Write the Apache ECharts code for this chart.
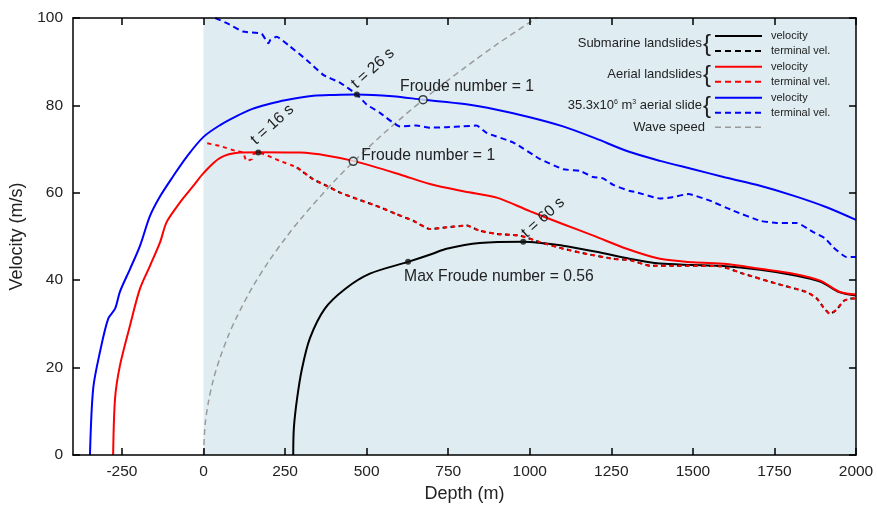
<!DOCTYPE html>
<html><head><meta charset="utf-8">
<script src="https://cdn.jsdelivr.net/npm/echarts@6/dist/echarts.min.js"></script>
<style>html,body{margin:0;padding:0;background:#fff}#c{width:877px;height:508px}</style>
</head><body><div id="c"></div>
<script>
// ---- data (depth m, velocity m/s) ----
const xTicks = [-250, 0, 250, 500, 750, 1000, 1250, 1500, 1750, 2000];
const yTicks = [0, 20, 40, 60, 80, 100];

const waveSpeed = [[0,0],[5,7],[15,12.1],[30,17.2],[50,22.1],[75,27.1],[100,31.3],[150,38.4],[200,44.3],[250,49.5],[300,54.2],[400,62.6],[500,70],[600,76.7],[700,82.9],[800,88.6],[900,94],[1000,99],[1025,100.3]];

const submarineVelocity = [[275,0],[277,6.2],[287,13],[302,19.8],[326,26.7],[372,33.5],[434,38],[510,41.5],[627,44.2],[700,46],[745,47.2],[847,48.5],[980,48.8],[1102,47.9],[1205,46.5],[1300,45],[1399,43.8],[1500,43.5],[1583,43.3],[1706,42.4],[1806,41.2],[1890,39.7],[1951,37.2],[2000,36.5]];

const submarineTerminal = [[286,65.8],[336,63.1],[380,61.5],[420,60],[470,58.6],[541,56.7],[592,55.1],[643,53.6],[694,51.7],[745,52.1],[807,52.5],[847,51.3],[899,50.6],[970,50.2],[1032,48.7],[1103,47.2],[1175,46],[1256,44.9],[1307,44.6],[1369,43.3],[1450,43.3],[1583,43.2],[1654,41.5],[1757,39.2],[1849,37.3],[1880,35.8],[1900,33.8],[1920,32.3],[1940,33.2],[1961,35.2],[1982,35.8],[2000,35.8]];

const aerialVelocity = [[-277,0],[-271,13],[-256,20.5],[-225,29.7],[-195,38],[-164,43.3],[-133,48.7],[-113,53.3],[-72,57.8],[-32,61.5],[0,64.5],[51,68],[112,69.2],[168,69.3],[296,69.2],[380,68.5],[459,67.3],[602,64.2],[694,62],[800,60.3],[899,58.9],[1000,55.8],[1103,52.8],[1195,50.2],[1297,47.2],[1399,44.9],[1501,44.1],[1604,43.7],[1706,42.6],[1808,41.5],[1890,39.9],[1951,37.3],[2000,36.7]];

const aerialTerminal = [[0,71.5],[51,70.7],[102,69.5],[121,69.2],[132,67.3],[148,67.7],[152,68.8],[168,69.2],[234,67.3],[286,65.8],[336,63.1],[380,61.5],[420,60],[470,58.6],[541,56.7],[592,55.1],[643,53.6],[694,51.7],[745,52.1],[807,52.5],[847,51.3],[899,50.6],[970,50.2],[1032,48.7],[1103,47.2],[1175,46],[1256,44.9],[1307,44.6],[1369,43.3],[1450,43.3],[1583,43.2],[1654,41.5],[1757,39.2],[1849,37.3],[1880,35.8],[1900,33.8],[1920,32.3],[1940,33.2],[1961,35.2],[1982,35.8],[2000,35.8]];

const bigSlideVelocity = [[-348,0],[-338,15.3],[-317,23.7],[-292,31.2],[-271,33.5],[-256,37.4],[-225,42.6],[-195,47.8],[-164,54.7],[-133,59.2],[-93,63.8],[-51,68.3],[0,72.8],[51,75.5],[100,77.5],[150,79.2],[200,80.3],[250,81.2],[337,82.2],[400,82.4],[470,82.5],[580,82.1],[673,81.3],[800,80.3],[899,79],[1000,77.3],[1102,75.2],[1200,72.5],[1300,69.5],[1400,67.3],[1501,65.4],[1600,63.5],[1706,61.6],[1810,59.3],[1910,56.7],[2000,53.8]];

const bigSlideTerminal = [[36,100],[80,98.5],[121,96.9],[178,96.4],[199,94.2],[205,95],[224,95.7],[265,93.5],[316,90.4],[367,87],[418,85.2],[470,82.5],[500,80.2],[541,78.3],[602,75.2],[653,75.4],[694,74.9],[745,75],[796,75.2],[837,75.4],[868,73.7],[950,71.5],[1032,67.7],[1103,65.4],[1154,65],[1194,63.6],[1225,63.3],[1256,61.8],[1307,60.4],[1328,60.1],[1399,58.7],[1430,58.9],[1486,59.7],[1552,58.2],[1624,55.9],[1706,53.6],[1757,53.1],[1818,53.1],[1869,51],[1905,49.6],[1931,47.5],[1971,45.3],[2000,45.3]];

// marked points
const solidDots = [[470,82.5],[168,69.2],[980,48.8],[627,44.2]];
const openDots = [[673,81.3],[459,67.2]];

// annotation texts
const annoTexts = ['t = 26 s','t = 16 s','t = 60 s','Froude number = 1','Froude number = 1','Max Froude number = 0.56'];
const annoAnchors = [[470,82.5],[168,69.2],[980,48.8],[673,81.3],[459,67.2],[627,44.2]];

// legend
const legendGroups = ['Submarine landslides','Aerial landslides','35.3x10{s|6} m{s|3} aerial slide'];
const legendColors = ['#000000','#ff0000','#0000ff'];
const legendSub = ['velocity','terminal vel.'];

// ---- chart ----
const F = '"Liberation Sans", Arial, sans-serif';
const BG = '#dfedf3';
const chart = echarts.init(document.getElementById('c'), null, {renderer: 'canvas'});

function line(name, data, color, dash, z, smooth, extra) {
  return Object.assign({
    name, type: 'line', data, showSymbol: false, symbol: 'none', silent: true,
    z: z, animation: false, clip: true, smooth: smooth,
    lineStyle: {color, width: 2, type: dash || 'solid'}
  }, extra || {});
}

const tickStyle = {show: true, inside: true, length: 7, lineStyle: {color: '#000', width: 1.5}};
const axisLineStyle = {show: true, onZero: false, lineStyle: {color: '#000', width: 1.5}};
const fmt = v => String(v);
const option = {
  backgroundColor: '#fff',
  animation: false,
  grid: {left: 73, right: 21, top: 18, bottom: 51, containLabel: false},
  xAxis: [{
    type: 'value', min: -400, max: 2000, position: 'bottom', z: 10,
    axisLine: axisLineStyle,
    axisTick: Object.assign({customValues: xTicks}, tickStyle),
    axisLabel: {show: true, customValues: xTicks, formatter: fmt, margin: 9, color: '#222', fontFamily: F, fontSize: 15.5},
    splitLine: {show: false},
    name: 'Depth (m)', nameLocation: 'middle', nameGap: 30,
    nameTextStyle: {fontFamily: F, fontSize: 18, color: '#222'}
  }, {
    type: 'value', min: -400, max: 2000, position: 'top', z: 10,
    axisLine: axisLineStyle,
    axisTick: Object.assign({customValues: xTicks}, tickStyle),
    axisLabel: {show: false}, splitLine: {show: false}
  }],
  yAxis: [{
    type: 'value', min: 0, max: 100, interval: 20, position: 'left', z: 10,
    axisLine: axisLineStyle,
    axisTick: tickStyle,
    axisLabel: {show: true, formatter: fmt, margin: 10, color: '#222', fontFamily: F, fontSize: 15.5},
    splitLine: {show: false},
    name: 'Velocity (m/s)', nameLocation: 'middle', nameGap: 39,
    nameTextStyle: {fontFamily: F, fontSize: 18, color: '#222'}
  }, {
    type: 'value', min: 0, max: 100, interval: 20, position: 'right', z: 10,
    axisLine: axisLineStyle,
    axisTick: tickStyle,
    axisLabel: {show: false}, splitLine: {show: false}
  }],
  series: [
    line('Wave speed', waveSpeed, '#9a9a9a', [6, 4], 2, 0.3, {
      lineStyle: {color: '#9a9a9a', width: 1.5, type: [6, 4]},
      markArea: {silent: true, itemStyle: {color: BG}, data: [[{xAxis: 0}, {xAxis: 2000}]]}
    }),
    line('Submarine velocity', submarineVelocity, '#000000', null, 3, 0.3),
    line('Submarine terminal', submarineTerminal, '#000000', [4, 4], 3, 0.15),
    line('Aerial velocity', aerialVelocity, '#ff0000', null, 4, 0.3),
    line('Aerial terminal', aerialTerminal, '#ff0000', [4, 4], 4, 0.15, {
      lineStyle: {color: '#ff0000', width: 2, type: [4, 4], dashOffset: 4}
    }),
    line('35.3 velocity', bigSlideVelocity, '#0000ff', null, 4, 0.3),
    line('35.3 terminal', bigSlideTerminal, '#0000ff', [6, 4], 4, 0.15),
    {type: 'scatter', data: solidDots, symbol: 'circle', symbolSize: 6, z: 6, silent: true,
     itemStyle: {color: '#111'}},
    {type: 'scatter', data: openDots, symbol: 'circle', symbolSize: 8, z: 6, silent: true,
     itemStyle: {color: BG, borderColor: '#111', borderWidth: 1.5}}
  ]
};
chart.setOption(option);

// annotations placed relative to the library's own pixel mapping
const annoOffsets = [[16,-26],[14,-28],[20,-24],[-23,-13],[8,-6],[-4,15]];
const annoRot = [42,42,42,0,0,0];
const graphics = [];
annoTexts.forEach((t, i) => {
  const p = chart.convertToPixel({xAxisIndex: 0, yAxisIndex: 0}, annoAnchors[i]);
  const rotated = annoRot[i] !== 0;
  graphics.push({
    type: 'text', x: p[0] + annoOffsets[i][0], y: p[1] + annoOffsets[i][1],
    rotation: annoRot[i] * Math.PI / 180, z: 10, silent: true,
    style: {text: t, fill: '#222', font: '15.7px ' + F,
            align: rotated ? 'center' : 'left', verticalAlign: 'middle'}
  });
});

// legend (pixel layout)
const lgTop = [36, 66.7, 97.7];
legendGroups.forEach((g, i) => {
  const y1 = lgTop[i], y2 = lgTop[i] + 15, yc = (y1 + y2) / 2;
  graphics.push({type: 'text', x: 702, y: yc, z: 10, silent: true,
    style: {text: g, fill: '#222', font: '13px ' + F, align: 'right', verticalAlign: 'middle',
      rich: {s: {fontSize: 7, fontFamily: F, fill: '#222', verticalAlign: 'top', padding: [0, 0, 6, 0]}}}});
  graphics.push({type: 'text', x: 703, y: yc + 1, z: 10, silent: true,
    style: {text: '{', fill: '#222', font: '24px ' + F, align: 'left', verticalAlign: 'middle'}});
  graphics.push({type: 'line', z: 10, silent: true, shape: {x1: 715, y1: y1, x2: 762, y2: y1},
    style: {stroke: legendColors[i], lineWidth: 2}});
  graphics.push({type: 'line', z: 10, silent: true, shape: {x1: 715, y1: y2, x2: 762, y2: y2},
    style: {stroke: legendColors[i], lineWidth: 2, lineDash: [6, 4]}});
  graphics.push({type: 'text', x: 771, y: y1, z: 10, silent: true,
    style: {text: legendSub[0], fill: '#222', font: '11px ' + F, align: 'left', verticalAlign: 'middle'}});
  graphics.push({type: 'text', x: 771, y: y2, z: 10, silent: true,
    style: {text: legendSub[1], fill: '#222', font: '11px ' + F, align: 'left', verticalAlign: 'middle'}});
});
graphics.push({type: 'text', x: 705, y: 127.3, z: 10, silent: true,
  style: {text: 'Wave speed', fill: '#222', font: '13px ' + F, align: 'right', verticalAlign: 'middle'}});
graphics.push({type: 'line', z: 10, silent: true, shape: {x1: 715, y1: 127.3, x2: 762, y2: 127.3},
  style: {stroke: '#9a9a9a', lineWidth: 1.5, lineDash: [6, 4]}});

chart.setOption({graphic: graphics});
</script></body></html>
